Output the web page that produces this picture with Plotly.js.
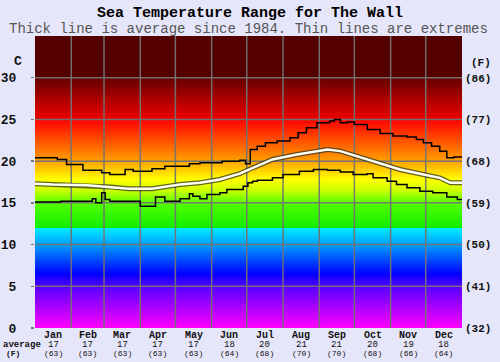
<!DOCTYPE html>
<html>
<head>
<meta charset="utf-8">
<script src="https://cdn.plot.ly/plotly-3.0.1.min.js"></script>
<style>
  html, body { margin: 0; padding: 0; background: #e6e6fa; }
  #chart { width: 500px; height: 362px; }
</style>
</head>
<body>
<div id="chart"></div>
<script>
// Month layout (day-of-year boundaries) and monthly averages
const months = ['Jan', 'Feb', 'Mar', 'Apr', 'May', 'Jun', 'Jul', 'Aug', 'Sep', 'Oct', 'Nov', 'Dec'];
const monthStart = [0, 31, 59, 90, 120, 151, 181, 212, 243, 273, 304, 334, 365];
const avgC = [17, 17, 17, 17, 17, 18, 20, 21, 21, 20, 19, 18];
const avgF = [63, 63, 63, 63, 63, 64, 68, 70, 70, 68, 66, 64];

// Temperature axis ticks
const cTicks = [0, 5, 10, 15, 20, 25, 30];
const fTicks = ['(32)', '(41)', '(50)', '(59)', '(68)', '(77)', '(86)'];

// Average sea temperature through the year (day of year, deg C)
const avgDay  = [0, 15, 45, 65, 80, 100, 124, 141, 158, 175, 186, 203, 224, 241, 250, 261, 275, 295, 312, 332, 346, 355, 365];
const avgTemp = [17.3, 17.2, 17.1, 16.9, 16.7, 16.7, 17.2, 17.4, 17.8, 18.5, 19.2, 20.2, 20.8, 21.2, 21.4, 21.2, 20.6, 19.8, 19.0, 18.4, 18.0, 17.4, 17.4];

// Highest recorded temperature
const maxDay  = [0, 19, 27, 41, 57, 64, 77, 84, 100, 111, 132, 141, 160, 175, 180, 184, 190, 197, 207, 218, 225, 232, 241, 252, 256, 261, 267, 273, 284, 295, 306, 318, 326, 332, 339, 346, 352, 358, 365];
const maxTemp = [20.4, 20.2, 19.6, 18.9, 18.6, 18.4, 19.0, 18.8, 19.1, 19.4, 19.7, 19.8, 20.0, 20.1, 19.7, 21.4, 21.8, 22.2, 22.4, 22.8, 23.4, 24.0, 24.6, 24.8, 25.0, 24.6, 24.7, 24.4, 23.8, 23.3, 23.0, 22.9, 22.6, 22.2, 21.8, 21.2, 20.4, 20.5, 20.5];

// Lowest recorded temperature
const minDay  = [0, 22, 49, 52, 57, 60, 64, 90, 103, 111, 124, 132, 135, 141, 147, 158, 164, 173, 178, 182, 186, 190, 203, 212, 226, 238, 250, 261, 272, 284, 289, 301, 309, 318, 329, 340, 352, 361, 365];
const minTemp = [15.1, 15.2, 15.5, 15.0, 16.2, 15.4, 15.2, 14.6, 15.7, 15.2, 15.5, 16.1, 15.8, 15.5, 16.0, 16.2, 16.6, 16.6, 17.0, 17.4, 17.6, 17.7, 18.0, 18.4, 18.8, 19.0, 18.9, 18.7, 18.4, 18.5, 18.0, 17.6, 17.2, 16.8, 16.4, 16.2, 15.7, 15.4, 15.3];

// Background colour bands by temperature (deg C -> colour)
const bandStops = [
  [0, '#ff00ff'], [2.5, '#aa00ff'], [5, '#5500ff'], [6.5, '#0000ff'],
  [10, '#00a0ff'], [12, '#00eeff'], [12.01, '#11ee00'], [15, '#55ff00'],
  [16.5, '#ccff00'], [17.8, '#ffff00'], [20, '#ffa000'], [25, '#ff0000'],
  [25.01, '#ee0000'], [30, '#660000'], [30.01, '#550000'], [35, '#550000']
];
const yMax = 35;
const xMax = 365;

const FONT = 'Liberation Mono, DejaVu Sans Mono, monospace';

// Heatmap rows for the background
const bgY = [], bgZ = [];
const bgStep = 0.05;
for (let v = 0; v <= yMax + 1e-9; v += bgStep) bgY.push(+v.toFixed(3));
for (let i = 0; i < bgY.length - 1; i++) bgZ.push([(bgY[i] + bgY[i + 1]) / 2]);
const colorscale = bandStops.map(s => [s[0] / yMax, s[1]]);

const background = {
  type: 'heatmap', x: [0, xMax], y: bgY, z: bgZ,
  colorscale: colorscale, zmin: 0, zmax: yMax, zsmooth: false,
  showscale: false, hoverinfo: 'skip'
};

// Grid lines drawn above the coloured background
const gx = [], gy = [];
monthStart.slice(1, -1).forEach(d => { gx.push(d, d, null); gy.push(0, yMax, null); });
cTicks.slice(1).forEach(t => { gx.push(0, xMax, null); gy.push(t, t, null); });
const grid = {
  type: 'scatter', mode: 'lines', x: gx, y: gy,
  line: { color: 'rgba(115,115,115,0.95)', width: 1.5 }, hoverinfo: 'skip'
};

const maxLine = {
  type: 'scatter', mode: 'lines', x: maxDay, y: maxTemp,
  line: { color: '#000', width: 1.5, shape: 'hv' }, hoverinfo: 'skip'
};
const minLine = {
  type: 'scatter', mode: 'lines', x: minDay, y: minTemp,
  line: { color: '#000', width: 1.5, shape: 'hv' }, hoverinfo: 'skip'
};
const avgEdge = {
  type: 'scatter', mode: 'lines', x: avgDay, y: avgTemp,
  line: { color: 'rgba(50,50,40,0.75)', width: 5 }, hoverinfo: 'skip'
};
const avgCore = {
  type: 'scatter', mode: 'lines', x: avgDay, y: avgTemp,
  line: { color: '#fffff0', width: 2.5 }, hoverinfo: 'skip'
};
// Carries the Fahrenheit axis on the right
const fAxisCarrier = {
  type: 'scatter', mode: 'lines', x: [0], y: [0], yaxis: 'y2',
  line: { width: 0 }, showlegend: false, hoverinfo: 'skip'
};

// Plot-area geometry in pixels (used to place labels in paper units)
const L = 35, R = 38, T = 36, B = 34, W = 500, H = 362;
const pw = W - L - R, ph = H - T - B;
const px = x => (x - L) / pw;
const py = y => (H - B - y) / ph;

function label(text, xref, x, y, size, color) {
  return {
    text: text, xref: xref, yref: 'paper', x: x, y: y, showarrow: false,
    xanchor: 'center', yanchor: 'middle',
    font: { family: FONT, size: size, color: color || '#111' }
  };
}

const annotations = [];
annotations.push(label('Thick line is average since 1984. Thin lines are extremes', 'paper', px(248), py(29), 14, '#555'));
annotations.push(label('<b>C</b>', 'paper', px(18), py(61), 13));
annotations.push(label('<b>(F)</b>', 'paper', px(481), py(63), 11));
annotations.push(label('<b>average</b>', 'paper', px(21.5), py(344.5), 9));
annotations.push(label('<b>(F)</b>', 'paper', px(13), py(353.5), 8));
months.forEach((m, i) => {
  const mid = (monthStart[i] + monthStart[i + 1]) / 2;
  annotations.push(label('<b>' + m + '</b>', 'x', mid, py(335.5), 10));
  annotations.push(label(String(avgC[i]), 'x', mid, py(344.5), 9));
  annotations.push(label('(' + avgF[i] + ')', 'x', mid, py(353.5), 8));
});

const layout = {
  width: W, height: H,
  margin: { l: L, r: R, t: T, b: B, pad: 0 },
  paper_bgcolor: '#e6e6fa', plot_bgcolor: '#e6e6fa',
  showlegend: false,
  title: {
    text: '<b>Sea Temperature Range for The Wall</b>',
    font: { family: FONT, size: 15, color: '#000' },
    x: 0.5, xanchor: 'center', xref: 'container',
    y: 1 - 12 / H, yanchor: 'middle', yref: 'container'
  },
  xaxis: {
    range: [0, xMax], showgrid: false, zeroline: false,
    showticklabels: false, ticks: '', showline: false, fixedrange: true
  },
  yaxis: {
    range: [0, yMax], tickvals: cTicks, ticktext: cTicks.map(t => '<b>' + t + '</b>'),
    showgrid: false, zeroline: false, ticks: 'outside', ticklen: 3,
    tickcolor: '#777', tickwidth: 1.5, ticklabelstandoff: 12,
    tickfont: { family: FONT, size: 13, color: '#111' }, showline: false
  },
  yaxis2: {
    overlaying: 'y', side: 'right', range: [0, yMax], tickvals: cTicks,
    ticktext: fTicks.map(t => '<b>' + t + '</b>'),
    showgrid: false, zeroline: false, ticks: '', ticklabelstandoff: 2,
    tickfont: { family: FONT, size: 11, color: '#111' }, showline: false
  },
  annotations: annotations
};

Plotly.newPlot('chart',
  [background, grid, maxLine, minLine, avgEdge, avgCore, fAxisCarrier],
  layout, { staticPlot: true, displayModeBar: false });
</script>
</body>
</html>
